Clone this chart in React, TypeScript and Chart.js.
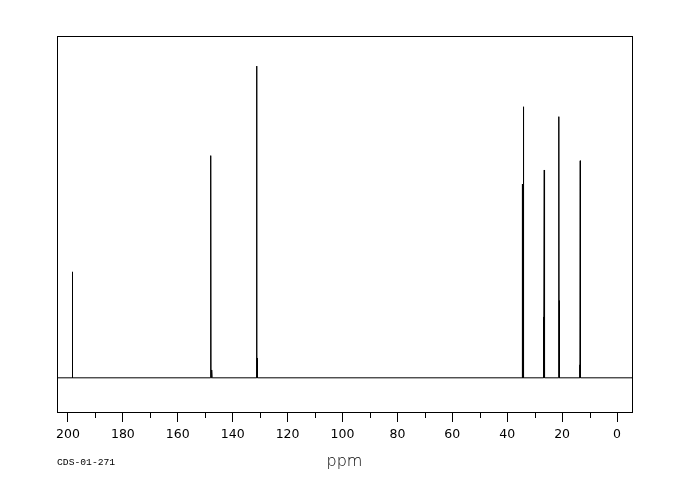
import React, { useEffect, useRef } from 'react';
import { Chart, registerables } from 'chart.js';

Chart.register(...registerables);

// Peak positions (ppm) and relative intensities
const peakPpm = [198.4, 148.0, 147.6, 131.3, 131.1, 34.5, 34.1, 26.85, 26.5, 21.2, 21.0, 13.6, 13.4];
const peakHeight = [31.0, 65.0, 2.3, 91.2, 5.8, 56.7, 79.3, 17.8, 60.8, 76.4, 22.6, 3.8, 63.5];
const majorTicks = [200, 180, 160, 140, 120, 100, 80, 60, 40, 20, 0];
const sampleId = 'CDS-01-271';
const axisTitle = 'ppm';

const X_MIN = -5.46;
const X_MAX = 204;
const HALF_WIDTH = 0.1;

function buildPoints() {
  const pts: { x: number; y: number }[] = [];
  pts.push({ x: X_MAX, y: 0 });
  const raw: { x: number; y: number }[] = [];
  peakPpm.forEach((p, i) => {
    raw.push({ x: p + HALF_WIDTH, y: 0 });
    raw.push({ x: p, y: peakHeight[i] });
    raw.push({ x: p - HALF_WIDTH, y: 0 });
  });
  raw.sort((a, b) => b.x - a.x);
  pts.push(...raw);
  pts.push({ x: X_MIN, y: 0 });
  return pts;
}

const framePlugin = {
  id: 'frameAndText',
  afterDraw(chart: any) {
    const { ctx, chartArea } = chart;
    const xs = chart.scales.x;
    ctx.save();
    ctx.strokeStyle = '#000';
    ctx.lineWidth = 1;
    ctx.strokeRect(
      Math.round(chartArea.left) + 0.5,
      Math.round(chartArea.top) + 0.5,
      Math.round(chartArea.right - chartArea.left),
      Math.round(chartArea.bottom - chartArea.top)
    );
    // minor ticks
    ctx.beginPath();
    for (let i = 0; i < majorTicks.length - 1; i++) {
      const v = (majorTicks[i] + majorTicks[i + 1]) / 2;
      const px = Math.round(xs.getPixelForValue(v)) + 0.5;
      ctx.moveTo(px, Math.round(chartArea.bottom));
      ctx.lineTo(px, Math.round(chartArea.bottom) + 6);
    }
    ctx.stroke();
    ctx.fillStyle = '#000';
    ctx.font = '9.7px "Liberation Mono", "DejaVu Sans Mono", monospace';
    ctx.textBaseline = 'middle';
    ctx.textAlign = 'left';
    ctx.fillText(sampleId, chartArea.left, 462);
    ctx.restore();
  },
};

export default function App() {
  const ref = useRef<HTMLCanvasElement>(null);
  useEffect(() => {
    document.body.style.margin = '0';
    if (!ref.current) return;
    const chart = new Chart(ref.current, {
      type: 'line',
      data: {
        datasets: [
          {
            data: buildPoints(),
            borderColor: '#000',
            borderWidth: 1,
            pointRadius: 0,
            tension: 0,
            fill: false,
          },
        ],
      },
      options: {
        animation: false,
        responsive: false,
        maintainAspectRatio: false,
        parsing: false,
        layout: { padding: { left: 57, right: 48, top: 36, bottom: 0 } },
        plugins: { legend: { display: false }, tooltip: { enabled: false } },
        scales: {
          x: {
            type: 'linear',
            reverse: true,
            min: X_MIN,
            max: X_MAX,
            afterFit: (s: any) => {
              s.height = 88;
            },
            afterBuildTicks: (s: any) => {
              s.ticks = majorTicks.map((v) => ({ value: v }));
            },
            ticks: {
              autoSkip: false,
              maxRotation: 0,
              padding: 5,
              color: '#000',
              font: { family: '"DejaVu Sans", Verdana, sans-serif', size: 12.5 },
              callback: (v: any) => String(v),
            },
            grid: {
              drawOnChartArea: false,
              drawTicks: true,
              tickLength: 10,
              color: '#000',
            },
            border: { display: true, color: '#000' },
            title: {
              display: true,
              text: axisTitle,
              color: '#000',
              font: { family: '"DejaVu Sans", Verdana, sans-serif', size: 16, weight: 200 },
              padding: { top: 0, bottom: 29 },
            },
          },
          y: {
            display: false,
            min: -10,
            max: 100,
          },
        },
      },
      plugins: [framePlugin],
    });
    return () => chart.destroy();
  }, []);
  return (
    <div style={{ position: 'fixed', left: 0, top: 0, width: 680, height: 500, background: '#fff' }}>
      <canvas ref={ref} width={680} height={500} style={{ width: 680, height: 500 }} />
    </div>
  );
}
